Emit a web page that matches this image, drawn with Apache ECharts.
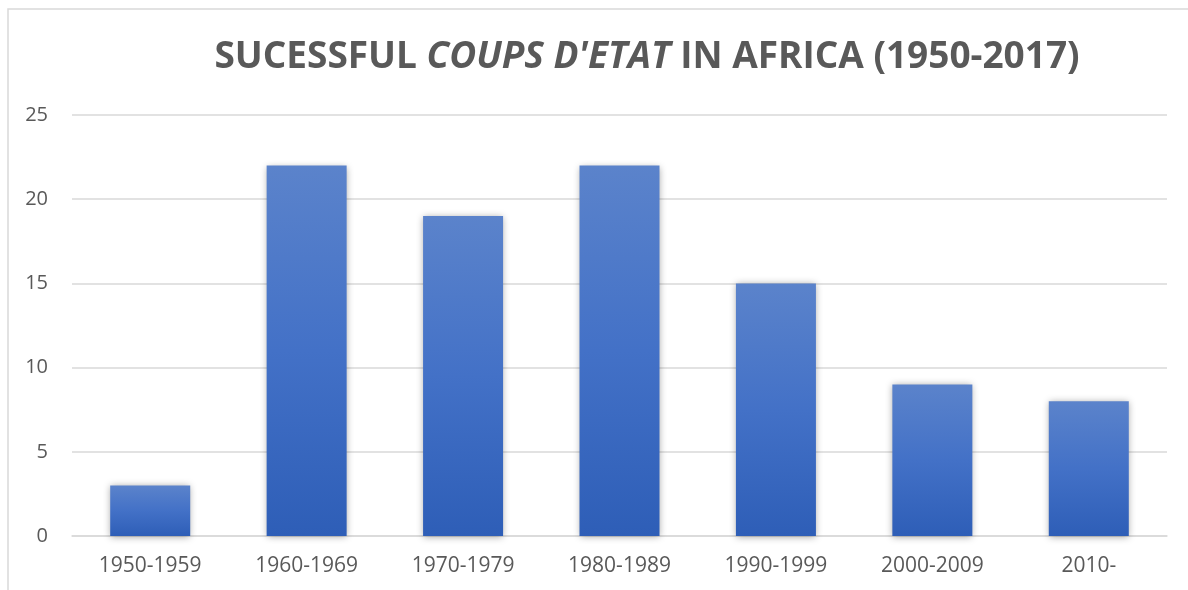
<!DOCTYPE html>
<html>
<head>
    <meta charset="utf-8">
    <title>Sucessful coups d'etat in Africa</title>
    <script src="https://cdn.jsdelivr.net/npm/echarts@6/dist/echarts.min.js"></script>
    <style>
        html, body { margin: 0; padding: 0; background: #fff; }
        #main { width: 1188px; height: 590px; }
    </style>
</head>
<body>
<div id="main"></div>
<script type="text/javascript">
    // data
    var decades = ['1950-1959', '1960-1969', '1970-1979', '1980-1989', '1990-1999', '2000-2009', '2010-'];
    var coups = [3, 22, 19, 22, 15, 9, 8];
    var yTicks = [0, 5, 10, 15, 20, 25];

    var myChart = echarts.init(document.getElementById('main'));
    var txt = '#595959';
    var font = '"Open Sans", "Noto Sans", sans-serif';

    var option = {
        backgroundColor: '#fff',
        animation: false,
        // 标题，中间一段是斜体
        title: {
            text: '{b|SUCESSFUL }{i|COUPS D\'ETAT}{b| IN AFRICA (1950-2017)}',
            left: 642,
            textAlign: 'center',
            top: 34,
            textStyle: {
                rich: {
                    b: { fontFamily: font, fontWeight: 'bold', fontSize: 37, color: txt },
                    i: { fontFamily: font, fontWeight: 'bold', fontStyle: 'italic', fontSize: 37, color: txt }
                }
            }
        },
        graphic: [{
            type: 'polyline',
            shape: { points: [[8, 600], [8, 9], [1200, 9]] },
            style: { stroke: '#d9d9d9', fill: null, lineWidth: 1.5 },
            silent: true
        }],
        grid: { left: 72, right: 21, top: 115, bottom: 54, containLabel: false },
        xAxis: {
            type: 'category',
            data: decades,
            axisTick: { show: false },
            axisLine: { lineStyle: { color: '#d9d9d9', width: 1.5 } },
            axisLabel: { color: txt, fontSize: 21, fontFamily: font, margin: 20 }
        },
        yAxis: {
            type: 'value',
            min: yTicks[0],
            max: yTicks[yTicks.length - 1],
            interval: yTicks[1] - yTicks[0],
            axisLine: { show: false },
            axisTick: { show: false },
            splitLine: { lineStyle: { color: '#d9d9d9', width: 1.5 } },
            axisLabel: { color: txt, fontSize: 20, fontFamily: font, margin: 24 }
        },
        series: [{
            type: 'bar',
            data: coups,
            barWidth: 80,
            itemStyle: {
                color: new echarts.graphic.LinearGradient(0, 0, 0, 1, [
                    { offset: 0, color: '#5B83CB' },
                    { offset: 0.5, color: '#4371C7' },
                    { offset: 1, color: '#2E5EB7' }
                ]),
                shadowColor: 'rgba(0,0,0,0.35)',
                shadowBlur: 7,
                shadowOffsetY: 1
            }
        }]
    };
    myChart.setOption(option);
</script>
</body>
</html>
